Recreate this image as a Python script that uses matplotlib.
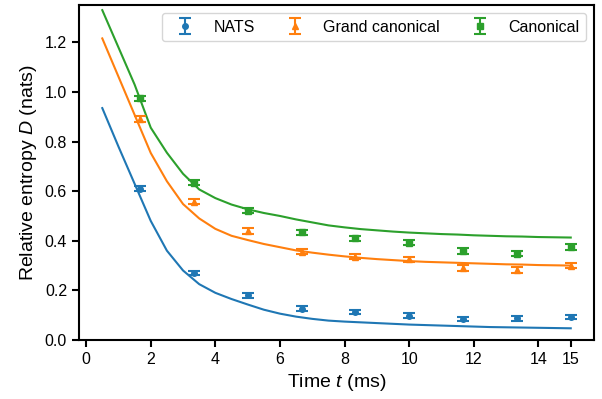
import numpy as np
import matplotlib
matplotlib.use('Agg')
import matplotlib.pyplot as plt

plt.rcParams['font.family'] = ['Liberation Sans', 'DejaVu Sans']
plt.rcParams['mathtext.fontset'] = 'custom'
plt.rcParams['mathtext.rm'] = 'Liberation Sans'
plt.rcParams['mathtext.it'] = 'Liberation Sans:italic'

# measured points
t_pts = [1.67, 3.33, 5.0, 6.67, 8.33, 10.0, 11.67, 13.33, 15.0]
nats_pts = [0.609, 0.270, 0.180, 0.126, 0.112, 0.098, 0.084, 0.087, 0.092]
nats_err = [0.010, 0.010, 0.009, 0.009, 0.009, 0.009, 0.009, 0.009, 0.009]
gc_pts = [0.891, 0.558, 0.441, 0.355, 0.336, 0.325, 0.290, 0.282, 0.300]
gc_err = [0.011, 0.011, 0.012, 0.010, 0.011, 0.011, 0.012, 0.012, 0.011]
can_pts = [0.974, 0.634, 0.522, 0.434, 0.410, 0.392, 0.358, 0.348, 0.374]
can_err = [0.010, 0.010, 0.010, 0.010, 0.011, 0.011, 0.011, 0.011, 0.011]

# theory curves
t_line = [0.5, 1.0, 1.5, 2.0, 2.5, 3.0, 3.5, 4.0, 4.5, 5.0, 5.5, 6.0, 6.5, 7.0, 7.5,
          8.0, 8.5, 9.0, 9.5, 10.0, 10.5, 11.0, 11.5, 12.0, 12.5, 13.0, 13.5, 14.0, 14.5, 15.0]
nats_line = [0.935, 0.780, 0.630, 0.480, 0.360, 0.280, 0.225, 0.190, 0.165, 0.143,
             0.122, 0.106, 0.094, 0.085, 0.078, 0.074, 0.071, 0.068, 0.065, 0.062,
             0.060, 0.058, 0.056, 0.054, 0.052, 0.051, 0.050, 0.049, 0.048, 0.047]
gc_line = [1.216, 1.062, 0.908, 0.754, 0.640, 0.548, 0.490, 0.448, 0.420, 0.403,
           0.387, 0.374, 0.361, 0.352, 0.344, 0.337, 0.331, 0.326, 0.322, 0.318,
           0.315, 0.313, 0.311, 0.309, 0.307, 0.305, 0.304, 0.302, 0.301, 0.300]
can_line = [1.330, 1.180, 1.030, 0.856, 0.755, 0.670, 0.607, 0.572, 0.546, 0.527,
            0.512, 0.500, 0.486, 0.474, 0.462, 0.454, 0.447, 0.442, 0.437, 0.433,
            0.430, 0.427, 0.425, 0.422, 0.420, 0.418, 0.417, 0.415, 0.414, 0.413]

colors = ['#1f77b4', '#ff7f0e', '#2ca02c']

fig, ax = plt.subplots(figsize=(6.02, 3.99), dpi=100)
fig.subplots_adjust(left=0.131, right=0.987, top=0.987, bottom=0.148)

ax.plot(t_line, nats_line, color=colors[0], lw=1.5)
ax.plot(t_line, gc_line, color=colors[1], lw=1.5)
ax.plot(t_line, can_line, color=colors[2], lw=1.5)

ekw = dict(ls='none', capsize=4.5, capthick=1.5, elinewidth=1.5, markersize=4)
ax.errorbar(t_pts, nats_pts, yerr=nats_err, fmt='o', color=colors[0], label='NATS', **ekw)
ax.errorbar(t_pts, gc_pts, yerr=gc_err, fmt='^', color=colors[1], label='Grand canonical', **ekw)
ax.errorbar(t_pts, can_pts, yerr=can_err, fmt='s', color=colors[2], label='Canonical', **ekw)

ax.set_ylim(0, 1.35)
ax.set_xticks([0, 2, 4, 6, 8, 10, 12, 14, 15])
ax.set_yticks([0.0, 0.2, 0.4, 0.6, 0.8, 1.0, 1.2])
ax.tick_params(labelsize=11.5, width=1.5, length=5)
for s in ax.spines.values():
    s.set_linewidth(1.5)

ax.set_xlabel(r'Time $t$ (ms)', fontsize=14)
ax.set_ylabel(r'Relative entropy $D$ (nats)', fontsize=14)
ax.legend(loc='upper right', ncol=3, fontsize=11.5, borderaxespad=0.5,
          columnspacing=1.5)

plt.savefig('out.png', dpi=100)
